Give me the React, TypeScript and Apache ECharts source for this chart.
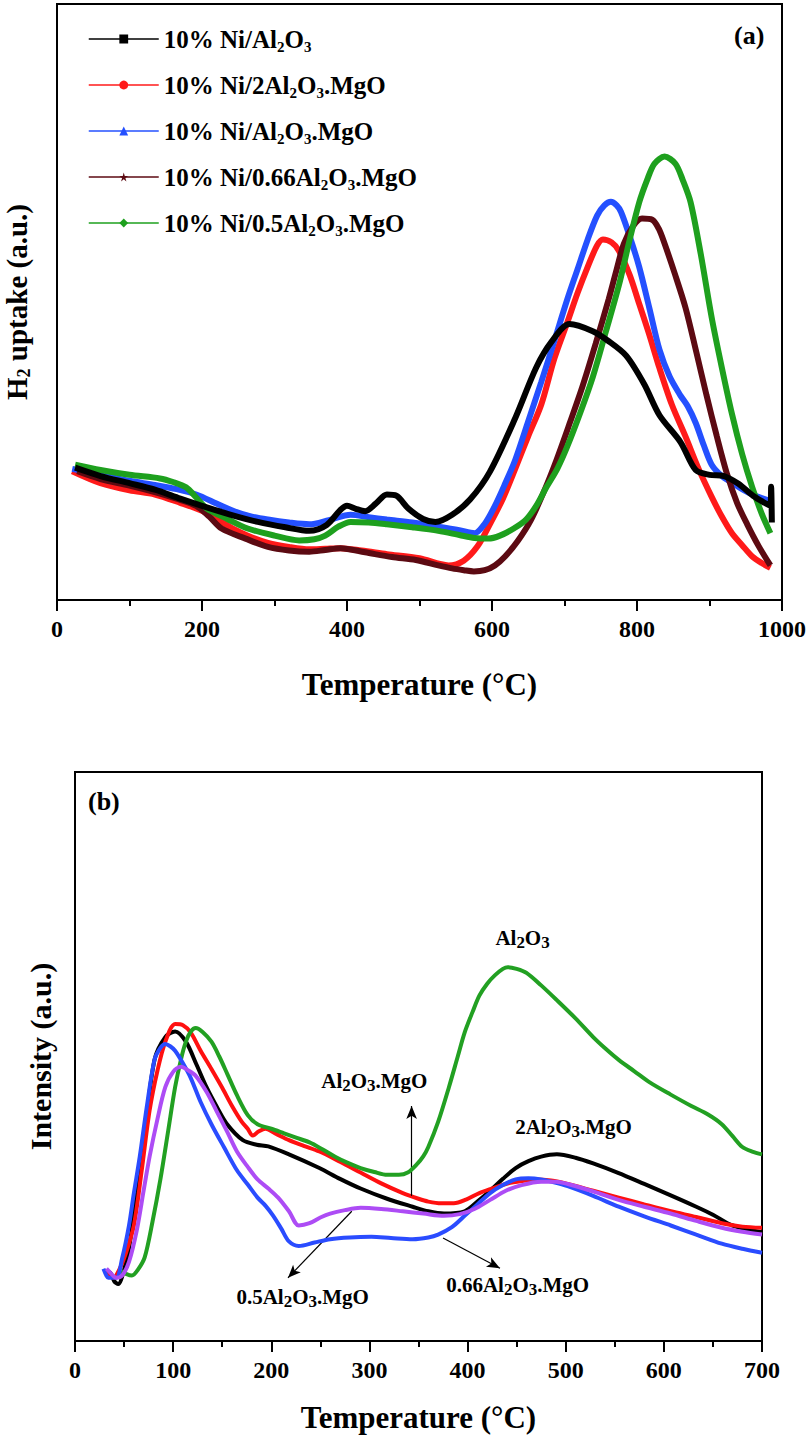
import React, { useEffect, useRef } from "react";
import * as echarts from "echarts";

const FONT = "'Liberation Serif', 'Times New Roman', Times, serif";

// ---------- Panel (a): H2-TPR ----------
const aSeriesNames = [
  "10% Ni/Al2O3",
  "10% Ni/2Al2O3.MgO",
  "10% Ni/Al2O3.MgO",
  "10% Ni/0.66Al2O3.MgO",
  "10% Ni/0.5Al2O3.MgO",
];
const aLegendRich = [
  "10% Ni/Al{s|2}O{s|3}",
  "10% Ni/2Al{s|2}O{s|3}.MgO",
  "10% Ni/Al{s|2}O{s|3}.MgO",
  "10% Ni/0.66Al{s|2}O{s|3}.MgO",
  "10% Ni/0.5Al{s|2}O{s|3}.MgO",
];
const aColors = ["#000000", "#ff1a1a", "#2450ff", "#5c0a12", "#1ea01e"];
const STAR = "path://M50,0 L61,35 L98,35 L68,57 L79,91 L50,70 L21,91 L32,57 L2,35 L39,35 Z";
const aSymbols = ["rect", "circle", "triangle", STAR, "diamond"];
const aXTicks = [0, 200, 400, 600, 800, 1000];

const aNiAl2O3 = [[25,22.2],[60,20.8],[100,19.6],[135,18.5],[170,17.0],[200,15.8],[240,14.3],[277,13.1],[315,12.2],[348,11.6],[372,12.6],[390,15.0],[400,15.8],[412,15.3],[425,14.9],[440,16.2],[455,17.7],[468,17.5],[485,15.3],[505,13.6],[522,13.1],[545,14.3],[570,16.9],[597,21.5],[632,30.5],[661,39.0],[682,43.3],[707,46.3],[739,45.1],[760,43.5],[785,41.0],[810,36.2],[831,31.0],[860,26.5],[881,21.8],[900,21.0],[920,20.8],[940,19.5],[960,17.5],[984,15.8],[985,19.0],[986,13.0]];
const aNi2Al2O3MgO = [[21,21.6],[60,19.6],[100,18.4],[135,17.7],[170,16.3],[199,15.0],[220,13.6],[242,12.0],[265,10.7],[291,9.6],[320,8.9],[348,8.5],[370,8.6],[391,8.7],[420,8.3],[455,7.7],[500,7.0],[540,5.8],[561,6.6],[580,9.0],[597,12.7],[615,17.0],[632,22.0],[650,27.5],[668,32.8],[686,40.5],[704,46.6],[718,51.5],[732,55.9],[745,59.5],[753,60.5],[765,60.0],[775,58.6],[790,54.5],[803,49.7],[817,44.5],[831,38.9],[848,32.8],[867,27.4],[885,22.0],[903,17.3],[917,14.0],[931,11.2],[945,9.2],[959,7.3],[972,6.2],[984,5.4]];
const aNiAl2O3MgO = [[21,22.0],[60,21.0],[100,20.0],[135,19.3],[165,18.6],[192,17.7],[220,16.2],[242,15.0],[265,14.1],[291,13.5],[320,13.0],[348,12.7],[375,13.4],[405,14.3],[430,13.9],[455,13.5],[490,13.0],[526,12.3],[555,11.7],[576,11.2],[590,12.8],[604,15.8],[618,19.5],[632,23.5],[650,30.0],[668,36.6],[686,43.5],[704,50.5],[718,55.5],[732,60.5],[745,64.5],[755,66.2],[764,66.8],[772,66.2],[778,65.1],[790,61.0],[803,55.9],[817,49.0],[831,42.0],[845,37.5],[860,34.3],[870,32.5],[881,29.7],[892,26.0],[903,22.7],[917,20.8],[931,19.7],[945,18.6],[959,17.7],[984,16.6]];
const aNi066Al2O3MgO = [[28,21.6],[60,20.3],[100,19.2],[135,18.1],[165,17.0],[192,15.8],[210,14.0],[227,12.0],[260,10.3],[291,8.9],[320,8.3],[348,8.1],[370,8.4],[391,8.7],[425,8.0],[462,7.2],[495,6.7],[526,5.8],[545,5.3],[561,5.0],[575,4.8],[590,5.0],[604,5.8],[618,7.3],[636,10.0],[654,13.5],[672,18.3],[689,23.5],[707,29.6],[725,35.9],[743,43.0],[761,50.5],[772,55.5],[782,59.8],[795,62.8],[807,64.0],[821,63.8],[830,62.3],[838,59.8],[852,54.8],[867,49.0],[882,41.5],[896,34.3],[910,27.5],[924,21.2],[938,16.3],[952,12.7],[968,9.0],[984,5.8]];
const aNi05Al2O3MgO = [[25,22.7],[60,21.8],[100,21.0],[142,20.4],[160,19.8],[178,18.9],[192,17.2],[206,15.4],[235,13.6],[263,12.0],[300,10.8],[334,10.0],[355,10.2],[370,10.8],[388,12.3],[405,13.1],[430,13.0],[455,12.7],[490,12.2],[526,11.6],[555,10.9],[576,10.4],[595,10.3],[611,10.8],[630,12.0],[647,13.5],[661,15.8],[675,18.9],[690,22.0],[704,25.8],[722,31.5],[739,37.4],[757,45.0],[775,52.8],[789,60.0],[803,66.7],[814,70.5],[824,73.2],[838,74.4],[853,73.2],[863,70.5],[874,66.7],[888,58.0],[903,47.4],[917,39.0],[931,31.2],[945,24.5],[959,18.9],[972,14.5],[984,11.2]];
const aData = [aNiAl2O3, aNi2Al2O3MgO, aNiAl2O3MgO, aNi066Al2O3MgO, aNi05Al2O3MgO];

// ---------- Panel (b): CO2-TPD ----------
const bSeriesNames = ["2Al2O3.MgO", "Al2O3.MgO", "Al2O3", "0.66Al2O3.MgO", "0.5Al2O3.MgO"];
const bColors = ["#000000", "#ff1010", "#22a022", "#2a4cff", "#ad4cf5"];
const bXTicks = [0, 100, 200, 300, 400, 500, 600, 700];

const b2Al2O3MgO = [[29,12.3],[36,12.0],[40,10.5],[44,10.0],[50,12.5],[55,16.3],[63,26.0],[71,36.5],[81,49.4],[92,53.4],[102,54.4],[113,52.6],[124,48.5],[134,44.6],[145,41.0],[155,38.1],[171,35.3],[185,34.5],[197,34.2],[218,32.8],[249,30.4],[270,28.5],[291,26.8],[318,25.0],[344,23.6],[360,22.8],[376,22.4],[397,22.8],[410,24.5],[423,26.4],[436,28.5],[449,30.4],[462,31.6],[475,32.4],[491,32.8],[510,32.2],[528,31.2],[554,29.5],[580,27.6],[607,25.6],[633,23.6],[650,22.2],[670,20.3],[700,19.1]];
const bAl2O3MgO = [[32,12.3],[36,11.5],[39,11.1],[45,12.5],[52,15.5],[60,20.3],[68,30.0],[76,40.5],[84,47.5],[92,52.6],[102,55.7],[110,55.5],[118,54.2],[128,51.0],[139,47.8],[150,44.5],[160,41.3],[170,38.5],[176,37.3],[181,36.1],[187,36.8],[194,37.3],[205,36.4],[218,35.3],[233,34.3],[249,33.3],[270,31.5],[291,29.6],[312,27.7],[334,26.0],[350,25.0],[360,24.5],[373,24.2],[386,24.2],[399,24.9],[412,26.0],[425,26.8],[439,27.6],[455,28.1],[470,28.4],[485,28.2],[502,27.6],[528,26.4],[554,25.2],[580,24.0],[607,22.8],[633,21.8],[659,20.7],[680,20.1],[700,19.9]];
const bAl2O3 = [[47,12.3],[52,11.8],[58,11.5],[64,12.5],[71,14.7],[79,21.0],[87,28.4],[95,37.0],[102,44.6],[108,49.5],[113,52.6],[118,54.4],[123,55.0],[130,54.3],[139,52.6],[147,50.0],[155,47.0],[165,43.2],[176,39.7],[186,38.1],[200,37.3],[213,36.5],[226,35.7],[239,34.9],[252,33.7],[265,32.4],[278,31.3],[291,30.4],[305,29.7],[318,29.2],[330,29.2],[339,29.6],[348,31.0],[355,32.5],[360,34.1],[370,38.5],[381,44.6],[390,50.0],[397,54.2],[405,57.8],[412,60.7],[420,62.8],[428,64.3],[436,65.4],[441,65.7],[450,65.4],[460,64.7],[475,62.5],[491,59.9],[510,56.7],[528,53.4],[541,51.3],[554,49.4],[570,47.4],[586,45.4],[607,43.3],[628,41.3],[645,39.8],[659,38.1],[670,36.0],[680,34.1],[690,33.3],[700,32.8]];
const b066Al2O3MgO = [[29,12.7],[32,11.5],[34,11.1],[42,11.1],[48,14.5],[55,20.3],[60,26.0],[66,32.4],[73,41.0],[81,49.4],[87,51.5],[92,52.2],[97,51.8],[102,51.0],[110,48.8],[118,46.2],[128,42.0],[139,38.1],[152,34.0],[165,30.0],[176,27.5],[186,25.2],[194,23.8],[202,22.0],[210,19.8],[218,17.5],[228,16.7],[244,17.3],[260,17.9],[280,18.2],[302,18.3],[322,18.1],[344,17.9],[360,18.2],[370,18.7],[384,20.0],[397,22.0],[410,24.0],[423,26.0],[436,27.4],[449,28.4],[462,28.6],[475,28.4],[488,27.9],[502,27.2],[528,25.5],[554,23.6],[580,21.9],[607,20.3],[633,18.7],[659,17.1],[680,16.2],[700,15.5]];
const b05Al2O3MgO = [[32,12.7],[36,12.0],[42,11.1],[48,11.5],[55,13.9],[63,19.5],[70,26.5],[76,32.4],[84,39.0],[92,44.6],[100,47.3],[108,48.2],[115,47.6],[123,46.6],[134,43.8],[144,40.5],[155,36.8],[165,33.3],[176,30.6],[186,28.4],[197,26.8],[207,25.2],[218,22.8],[228,20.3],[239,20.7],[250,21.7],[260,22.4],[275,23.0],[291,23.4],[312,23.2],[334,22.8],[355,22.4],[376,22.0],[392,22.3],[407,23.2],[423,24.8],[439,26.4],[455,27.4],[475,28.0],[490,28.0],[502,27.6],[528,26.3],[554,24.8],[580,23.6],[607,22.4],[633,21.1],[659,19.9],[680,19.2],[700,18.7]];
const bData = [b2Al2O3MgO, bAl2O3MgO, bAl2O3, b066Al2O3MgO, b05Al2O3MgO];

// annotation labels (b) in data coordinates
const bLabelTexts = ["Al{s|2}O{s|3}", "Al{s|2}O{s|3}.MgO", "2Al{s|2}O{s|3}.MgO", "0.5Al{s|2}O{s|3}.MgO", "0.66Al{s|2}O{s|3}.MgO"];
const bLabelCoords = [[456, 70.8], [305, 45.7], [508, 37.6], [232, 7.7], [451, 9.8]];
const bArrowFrom = [[343, 25.5], [282, 22.8], [375, 18.1]];
const bArrowTo = [[343, 41.3], [217, 11.1], [433, 12.8]];

export default function App() {
  const ref = useRef<HTMLDivElement>(null);
  useEffect(() => {
    document.body.style.margin = "0";
    const chart = echarts.init(ref.current!, null, { renderer: "svg" });
    const bold = { fontFamily: FONT, fontWeight: "bold" as const, color: "#000" };
    const axisX = (grid: number, max: number, interval: number, ticks: number[], nameGap: number) => ({
      type: "value",
      gridIndex: grid,
      min: 0,
      max,
      interval,
      axisLine: { show: true, onZero: false, lineStyle: { color: "#000", width: 2 } },
      axisTick: { show: true, inside: false, length: 11, lineStyle: { color: "#000", width: 2 } },
      minorTick: { show: true, splitNumber: 2, length: 6, lineStyle: { color: "#000", width: 2 } },
      splitLine: { show: false },
      axisLabel: {
        ...bold,
        fontSize: 24,
        margin: 17,
        formatter: (v: number) => (ticks.includes(v) ? String(v) : ""),
      },
      name: "Temperature (°C)",
      nameLocation: "middle",
      nameGap,
      nameTextStyle: { ...bold, fontSize: 31 },
    });
    const axisY = (grid: number, name: string, nameGap: number, size: number) => ({
      type: "value",
      gridIndex: grid,
      min: 0,
      max: 100,
      axisLine: { show: true, onZero: false, lineStyle: { color: "#000", width: 2 } },
      axisTick: { show: false },
      axisLabel: { show: false },
      splitLine: { show: false },
      name,
      nameLocation: "middle",
      nameGap,
      nameRotate: 90,
      nameTextStyle: {
        ...bold,
        fontSize: size,
        rich: { s: { ...bold, fontSize: 18, verticalAlign: "bottom", lineHeight: 18 } },
        lineHeight: 32,
      },
    });

    const seriesA = aData.map((d, i) => ({
      type: "line",
      name: aSeriesNames[i],
      xAxisIndex: 0,
      yAxisIndex: 0,
      data: d,
      smooth: 0.3,
      showSymbol: false,
      symbol: aSymbols[i],
      lineStyle: { color: aColors[i], width: 6 },
      itemStyle: { color: aColors[i] },
      z: i === 0 ? 7 : 2 + i,
    }));
    const seriesB = bData.map((d, i) => ({
      type: "line",
      name: bSeriesNames[i],
      xAxisIndex: 1,
      yAxisIndex: 1,
      data: d,
      smooth: 0.3,
      showSymbol: false,
      symbol: "none",
      lineStyle: { color: bColors[i], width: 4 },
      itemStyle: { color: bColors[i] },
      z: 3 + i,
    }));
    (seriesB[0] as any).markLine = {
      silent: true,
      symbol: ["none", "arrow"],
      symbolSize: [8, 13],
      lineStyle: { color: "#000", width: 1.2, type: "solid" },
      itemStyle: { color: "#000" },
      label: { show: false },
      emphasis: { disabled: true },
      data: bArrowFrom.map((f, i) => [{ coord: f }, { coord: bArrowTo[i] }]),
    };
    (seriesB[0] as any).markPoint = {
      silent: true,
      symbol: "circle",
      symbolSize: 0,
      data: bLabelCoords.map((c, i) => ({
        coord: c,
        label: {
          show: true,
          position: "inside",
          formatter: bLabelTexts[i],
          ...bold,
          fontSize: 21,
          lineHeight: 26,
          rich: { s: { ...bold, fontSize: 17, verticalAlign: "bottom", lineHeight: 17 } },
        },
      })),
    };

    chart.setOption({
      animation: false,
      backgroundColor: "#fff",
      grid: [
        { left: 57, top: 4, width: 725, height: 596, show: true, borderColor: "#000", borderWidth: 2, backgroundColor: "transparent", outerBoundsMode: "none", containLabel: false },
        { left: 75, top: 772, width: 687, height: 569, show: true, borderColor: "#000", borderWidth: 2, backgroundColor: "transparent", outerBoundsMode: "none", containLabel: false },
      ],
      xAxis: [axisX(0, 1000, 200, aXTicks, 69), axisX(1, 700, 100, bXTicks, 61)],
      yAxis: [axisY(0, "H{s|2} uptake (a.u.)", 24, 29), axisY(1, "Intensity (a.u.)", 19, 30)],
      legend: {
        orient: "vertical",
        left: 83,
        top: 19,
        padding: 5,
        itemWidth: 70,
        itemHeight: 11,
        itemGap: 16,
        selectedMode: false,
        data: aSeriesNames,
        formatter: (name: string) => aLegendRich[aSeriesNames.indexOf(name)],
        lineStyle: { width: 1.5 },
        textStyle: {
          ...bold,
          fontSize: 25,
          lineHeight: 30,
          rich: { s: { ...bold, fontSize: 15, verticalAlign: "bottom", lineHeight: 15 } },
        },
      },
      graphic: [
        { type: "text", left: 734, top: 22, style: { text: "(a)", font: `bold 26px ${FONT}`, fill: "#000" } },
        { type: "text", left: 88, top: 788, style: { text: "(b)", font: `bold 26px ${FONT}`, fill: "#000" } },
      ],
      series: [...seriesA, ...seriesB],
    });
    return () => chart.dispose();
  }, []);
  return <div ref={ref} style={{ width: 809, height: 1439 }} />;
}
